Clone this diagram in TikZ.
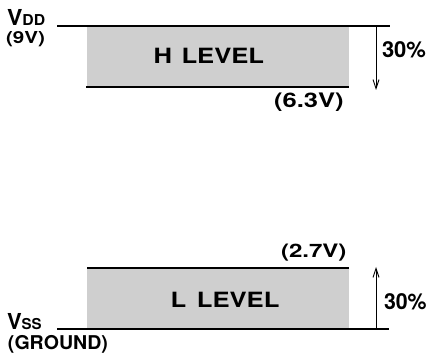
\documentclass[tikz,border=0pt]{standalone}
\usepackage{fontspec}
\setmainfont{TeX Gyre Heros}
\usetikzlibrary{arrows.meta}
\tikzset{
  lvl/.style={line width=1.5pt},
  band/.style={fill=black!19, draw=none},
  meas/.style={line width=0.9pt, -{Straight Barb[length=9pt,width=6pt,line width=0.9pt]}},
  lab/.style={anchor=base west, inner sep=0pt, outer sep=0pt, font=\bfseries},
}
\newcommand{\fbig}{\fontsize{22pt}{24pt}\selectfont}
\newcommand{\fsml}{\fontsize{15pt}{17pt}\selectfont}
\newcommand{\wide}[2]{\scalebox{#1}[1]{#2}}
\begin{document}
\begin{tikzpicture}[x=1pt,y=1pt]
\useasboundingbox (0,0) rectangle (431,359);
% bands
\fill[band] (87,272) rectangle (349,333);
\fill[band] (87,30) rectangle (349,91);
% level lines
\coordinate (vddL) at (57,333);
\coordinate (vddR) at (390,333);
\coordinate (hL) at (86,272);
\coordinate (hR) at (349,272);
\coordinate (lL) at (87,91);
\coordinate (lR) at (349,91);
\coordinate (vssL) at (57,30);
\coordinate (vssR) at (389,30);
\draw[lvl] (vddL) -- (vddR);
\draw[lvl] (hL) -- (hR);
\draw[lvl] (lL) -- (lR);
\draw[lvl] (vssL) -- (vssR);
% arrows
\coordinate (a1s) at (376,333);
\coordinate (a1e) at (376,269);
\coordinate (a2s) at (376,30);
\coordinate (a2e) at (376,92);
\draw[meas] (a1s) -- (a1e);
\draw[meas] (a2s) -- (a2e);
% labels
\node[lab] (vdd) at (7,333) {\wide{1.05}{\fbig V\fsml DD}};
\node[lab] (nine) at (6,315.5) {\wide{1.25}{\fontsize{16.5pt}{18pt}\selectfont (9V)}};
\node[lab] (vss) at (7,30) {\wide{1.0}{\fbig V\fsml SS}};
\node[lab] (gnd) at (8,10) {\wide{1.03}{\fontsize{19pt}{21pt}\selectfont (GROUND)}};
\node[lab] (h63) at (274,251) {\wide{1.28}{\fontsize{20pt}{22pt}\selectfont (6.3V)}};
\node[lab] (l27) at (281,101) {\wide{1.3}{\fontsize{18.5pt}{21pt}\selectfont (2.7V)}};
\node[lab] (p1) at (382,301) {\wide{1.0}{\fbig 30\%}};
\node[lab] (p2) at (384,50) {\wide{0.97}{\fbig 30\%}};
\node[lab] (hlev) at (153.5,295) {\wide{1.22}{\fontsize{21pt}{23pt}\selectfont H\hspace{2pt} LEVEL}};
\node[lab] (llev) at (170.5,52) {\wide{1.22}{\fontsize{21pt}{23pt}\selectfont L\hspace{3pt} LEVEL}};
\end{tikzpicture}
\end{document}
